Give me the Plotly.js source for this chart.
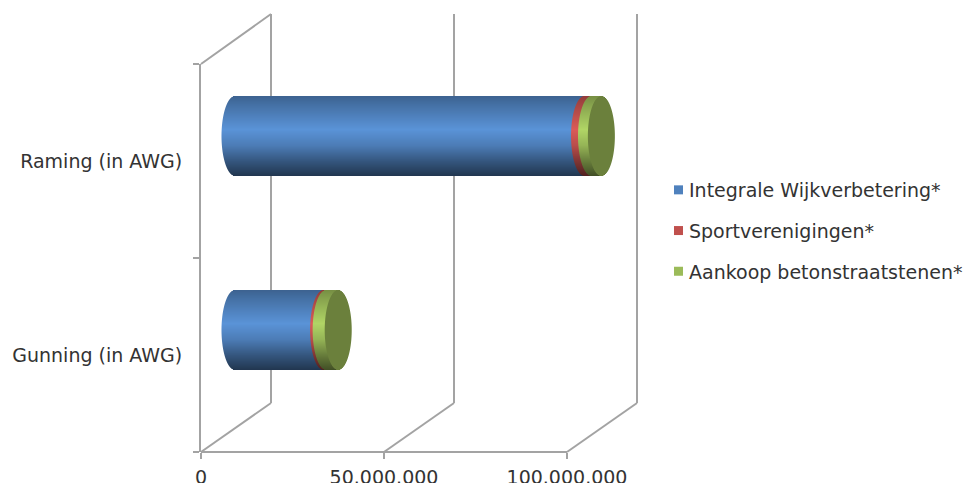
<!DOCTYPE html>
<html><head><meta charset="utf-8">
<script src="https://cdn.plot.ly/plotly-3.0.1.min.js"></script>
<style>html,body{margin:0;padding:0;background:#fff}</style></head>
<body><div id="chart" style="width:964px;height:483px"></div>
<script>
// Data
const categories = ['Gunning (in AWG)', 'Raming (in AWG)'];
const seriesNames = ['Integrale Wijkverbetering*', 'Sportverenigingen*', 'Aankoop betonstraatstenen*'];
const wijkverbetering = [24200000, 95500000];
const sportverenigingen = [700000, 1900000];
const betonstraatstenen = [3300000, 2700000];
const xTickVals = [0, 50000000, 100000000];
const xTickText = ['0', '50.000.000', '100.000.000'];

// Styles
const W = 964, H = 483;
const X0 = 201, X1 = 567, XEND = 660, Y0 = 452, Y1 = 64;     // front plane of the 3D box, px
const seriesColors = ['#4f81bd', '#c0504d', '#9bbb59'];
const capColor = '#6b803c';
const wallColor = '#a3a3a3', textColor = '#333333';
const font = 'DejaVu Sans, Verdana, sans-serif';
const pxPerVal = (X1 - X0) / 1e8;
const pxPerCat = (Y0 - Y1) / 2;
const rows = 80;                     // cylinder height in px, one bar per px row
const rxVal = 13.5 / pxPerVal;       // end-ellipse half width in value units
const shiftVal = 34 / pxPerVal;      // 3D depth offset of the cylinders
const shiftCat = 25 / pxPerCat;
const rowCat = 1 / pxPerCat;
// vertical shading of the cylinder: [position from top, brightness]
const shade = [[0, .76], [.12, .88], [.42, 1.14], [.62, .96], [.82, .66], [1, .42]];

function shadeAt(t) {
  for (let i = 1; i < shade.length; i++) {
    if (t <= shade[i][0]) {
      const a = shade[i - 1], b = shade[i];
      return a[1] + (b[1] - a[1]) * (t - a[0]) / (b[0] - a[0]);
    }
  }
  return shade[shade.length - 1][1];
}
function tint(hex, k) {
  const c = [1, 3, 5].map(i => Math.min(255, Math.round(parseInt(hex.substr(i, 2), 16) * k)));
  return `rgb(${c[0]},${c[1]},${c[2]})`;
}

const seriesValues = [wijkverbetering, sportverenigingen, betonstraatstenen];
const starts = categories.map(() => 0);
const segs = seriesValues.map(vals => vals.map((v, i) => {
  const s = starts[i]; starts[i] += v; return [s, s + v];
}));
const totals = starts.slice();

const traces = [];
// flat series bars: carry the legend, fully covered by the shaded rows
seriesValues.forEach((vals, si) => {
  traces.push({
    type: 'bar', orientation: 'h', name: seriesNames[si], legendgroup: seriesNames[si],
    y: categories, x: vals,
    base: segs[si].map(s => s[0] + shiftVal),
    width: rows * rowCat * 0.9, offset: shiftCat - rows * rowCat * 0.45,
    marker: {color: seriesColors[si], line: {width: 0}}, cliponaxis: false, hoverinfo: 'skip'
  });
});
// shaded rows forming the curved cylinder surface
for (let r = 0; r < rows; r++) {
  const t = (r + .5) / rows;          // 0 top, 1 bottom
  const v = 2 * t - 1;
  const s = Math.sqrt(1 - v * v);
  const off = shiftCat + (rows / 2 - r - 1) * rowCat;
  seriesValues.forEach((vals, si) => {
    traces.push({
      type: 'bar', orientation: 'h', showlegend: false,
      y: categories,
      x: segs[si].map(g => g[1] - g[0] + rxVal * s),
      base: segs[si].map(g => g[0] - rxVal * s + shiftVal),
      width: rowCat, offset: off,
      marker: {color: tint(seriesColors[si], shadeAt(t)), line: {width: 0}},
      cliponaxis: false, hoverinfo: 'skip'
    });
  });
  traces.push({
    type: 'bar', orientation: 'h', showlegend: false,
    y: categories,
    x: totals.map(() => 2 * rxVal * s),
    base: totals.map(tot => tot - rxVal * s + shiftVal),
    width: rowCat, offset: off,
    marker: {color: capColor, line: {width: 0}},
    cliponaxis: false, hoverinfo: 'skip'
  });
}

const px = x => x / W, py = y => 1 - y / H;
const wallLine = (x0, y0, x1, y1) => ({
  type: 'line', xref: 'paper', yref: 'paper', layer: 'below',
  x0: px(x0), y0: py(y0), x1: px(x1), y1: py(y1),
  line: {color: wallColor, width: 2}
});
const depthX = 70, depthY = 49;
const shapes = [wallLine(X0, Y1, X0 + depthX, Y1 - depthY - 1), wallLine(X0, Y0, X1, Y0)];
xTickVals.forEach(v => {
  const x = X0 + v * pxPerVal;
  shapes.push(wallLine(x, Y0, x + depthX, Y0 - depthY));
  shapes.push(wallLine(x + depthX, Y0 - depthY, x + depthX, Y1 - depthY - 1));
});

const legendX = 638, legendNudge = 11;   // the box must stay inside the page or Plotly shrinks the plot
const layout = {
  width: W, height: H, margin: {l: 0, r: 0, t: 0, b: 0}, autosize: false,
  paper_bgcolor: '#fff', plot_bgcolor: 'rgba(0,0,0,0)',
  barmode: 'overlay', showlegend: true, shapes,
  font: {family: font, size: 19, color: textColor},
  xaxis: {
    domain: [X0 / W, XEND / W], range: [0, (XEND - X0) / pxPerVal], tickmode: 'array', tickvals: xTickVals, ticktext: xTickText,
    showgrid: false, zeroline: false, showline: false,
    ticks: 'outside', ticklen: 6, tickwidth: 2, tickcolor: wallColor, ticklabelstandoff: 2,
    tickfont: {family: font, size: 19, color: textColor}
  },
  yaxis: {
    domain: [1 - Y0 / H, 1 - Y1 / H], range: [-.5, 1.5], type: 'category',
    categoryorder: 'array', categoryarray: categories, tickson: 'boundaries',
    showgrid: false, zeroline: false, showline: true, linecolor: wallColor, linewidth: 2,
    ticks: 'outside', ticklen: 6, tickwidth: 2, tickcolor: wallColor, ticklabelstandoff: 13,
    tickfont: {family: font, size: 19, color: textColor}
  },
  legend: {
    x: legendX / W, xanchor: 'left', y: 1 - 171 / H, yanchor: 'top', bgcolor: 'rgba(0,0,0,0)',
    font: {family: font, size: 19, color: textColor}, tracegroupgap: 13, traceorder: 'grouped',
    itemclick: false, itemdoubleclick: false
  }
};
Plotly.newPlot('chart', traces, layout, {displayModeBar: false, responsive: false}).then(() => {
  // legend swatches: smaller and closer to their labels, as in the reference
  document.querySelectorAll('.legend .legendpoints path').forEach(p => {
    p.setAttribute('transform', 'translate(29.5,0) scale(0.75)');
  });
  const leg = document.querySelector('.legend');
  const m = /translate\(([-\d.]+),\s*([-\d.]+)\)/.exec(leg.getAttribute('transform'));
  leg.setAttribute('transform', `translate(${parseFloat(m[1]) + legendNudge},${m[2]})`);
});
</script></body></html>
